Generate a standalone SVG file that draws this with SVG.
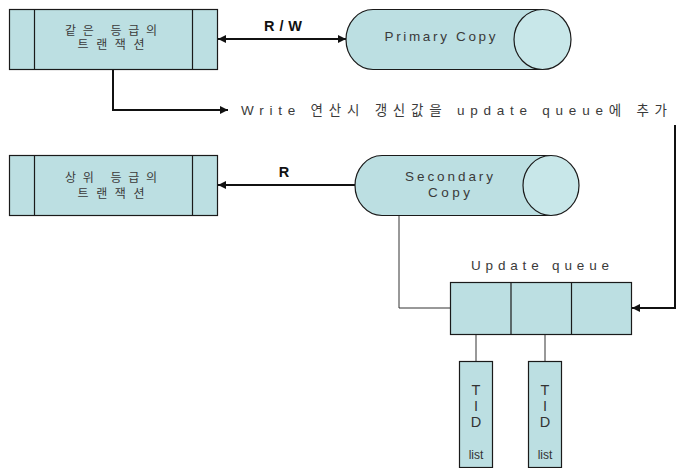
<svg xmlns="http://www.w3.org/2000/svg" width="686" height="468" viewBox="0 0 686 468">
<defs>
<style>
.box{fill:#bcdfe2;stroke:#1a1a1a;stroke-width:1.2}
.cap{fill:#c8e7e9;stroke:#1a1a1a;stroke-width:1.2}
.div{stroke:#1a1a1a;stroke-width:1.2;fill:none}
.kt{font-family:"Liberation Sans","Noto Sans CJK KR",sans-serif;font-size:12px;fill:#3a3a3a;text-anchor:middle}
.lt{font-family:"Liberation Sans","Noto Sans CJK KR",sans-serif;font-size:13.5px;fill:#3a3a3a;text-anchor:middle}
.bl{font-family:"Liberation Sans",sans-serif;font-size:14.5px;font-weight:bold;fill:#111;text-anchor:middle}
.tid{font-family:"Liberation Sans",sans-serif;font-size:14.5px;fill:#333;text-anchor:middle}
.sm{font-family:"Liberation Sans",sans-serif;font-size:12px;fill:#333;text-anchor:middle}
.thick{stroke:#111;stroke-width:2;fill:none}
.thin{stroke:#333;stroke-width:1;fill:none}
</style>
<marker id="ah" viewBox="0 0 10 10" refX="10" refY="5" markerWidth="10" markerHeight="8" markerUnits="userSpaceOnUse" orient="auto-start-reverse">
<path d="M0,0 L10,5 L0,10 z" fill="#111"/>
</marker>
</defs>

<g id="connectors">
<line class="thick" x1="218" y1="39" x2="346" y2="39" marker-start="url(#ah)" marker-end="url(#ah)"/>
<path class="thick" d="M113,69 V110 H228" marker-end="url(#ah)"/>
<line class="thick" x1="355" y1="185" x2="218" y2="185" marker-end="url(#ah)"/>
<path class="thin" d="M399,215 V308 H450"/>
<path class="thick" d="M675,125 V308 H632" marker-end="url(#ah)"/>
<line class="thin" x1="476" y1="335" x2="476" y2="361"/>
<line class="thin" x1="545" y1="335" x2="545" y2="361"/>
<text class="bl" x="283" y="31" textLength="38" lengthAdjust="spacing">R/W</text>
<text class="bl" x="284" y="177">R</text>
<text class="lt" x="454" y="115" textLength="426" lengthAdjust="spacing">Write 연산시 갱신값을  update queue에 추가</text>
</g>

<g id="same-level-tx">
<rect class="box" x="9.5" y="9.5" width="208" height="60"/>
<line class="div" x1="34.5" y1="9.5" x2="34.5" y2="69.5"/>
<line class="div" x1="192.5" y1="9.5" x2="192.5" y2="69.5"/>
<text class="kt" x="111" y="35" textLength="92" lengthAdjust="spacing">같은 등급의</text>
<text class="kt" x="111" y="49" textLength="67" lengthAdjust="spacing">트랜잭션</text>
</g>

<g id="primary-copy">
<path class="box" d="M373,9.5 H542 V69.5 H373 A27,30 0 0 1 373,9.5 Z"/>
<ellipse class="cap" cx="542.5" cy="39.5" rx="28.5" ry="30"/>
<text class="lt" x="440" y="41" textLength="111" lengthAdjust="spacing">Primary Copy</text>
</g>

<g id="upper-level-tx">
<rect class="box" x="9.5" y="155.5" width="208" height="60"/>
<line class="div" x1="34.5" y1="155.5" x2="34.5" y2="215.5"/>
<line class="div" x1="192.5" y1="155.5" x2="192.5" y2="215.5"/>
<text class="kt" x="111" y="182" textLength="92" lengthAdjust="spacing">상위 등급의</text>
<text class="kt" x="111" y="198" textLength="67" lengthAdjust="spacing">트랜잭션</text>
</g>

<g id="secondary-copy">
<path class="box" d="M382,155.5 H551 V215.5 H382 A27,30 0 0 1 382,155.5 Z"/>
<ellipse class="cap" cx="551" cy="185.5" rx="28" ry="30"/>
<text class="lt" x="449" y="181" textLength="88" lengthAdjust="spacing">Secondary</text>
<text class="lt" x="449" y="197" textLength="42" lengthAdjust="spacing">Copy</text>
</g>

<g id="update-queue">
<text class="lt" x="540" y="270" textLength="138" lengthAdjust="spacing">Update queue</text>
<rect class="box" x="450.5" y="282.5" width="181" height="52"/>
<line class="div" x1="511" y1="282.5" x2="511" y2="334.5"/>
<line class="div" x1="571.5" y1="282.5" x2="571.5" y2="334.5"/>
</g>

<g id="tid-list-1">
<rect class="box" x="459.5" y="361.5" width="33" height="106"/>
<text class="tid" x="476" y="395">T</text>
<text class="tid" x="476" y="411">I</text>
<text class="tid" x="476" y="427">D</text>
<text class="sm" x="476" y="459">list</text>
</g>

<g id="tid-list-2">
<rect class="box" x="528.5" y="361.5" width="33" height="106"/>
<text class="tid" x="545" y="395">T</text>
<text class="tid" x="545" y="411">I</text>
<text class="tid" x="545" y="427">D</text>
<text class="sm" x="545" y="459">list</text>
</g>
</svg>
